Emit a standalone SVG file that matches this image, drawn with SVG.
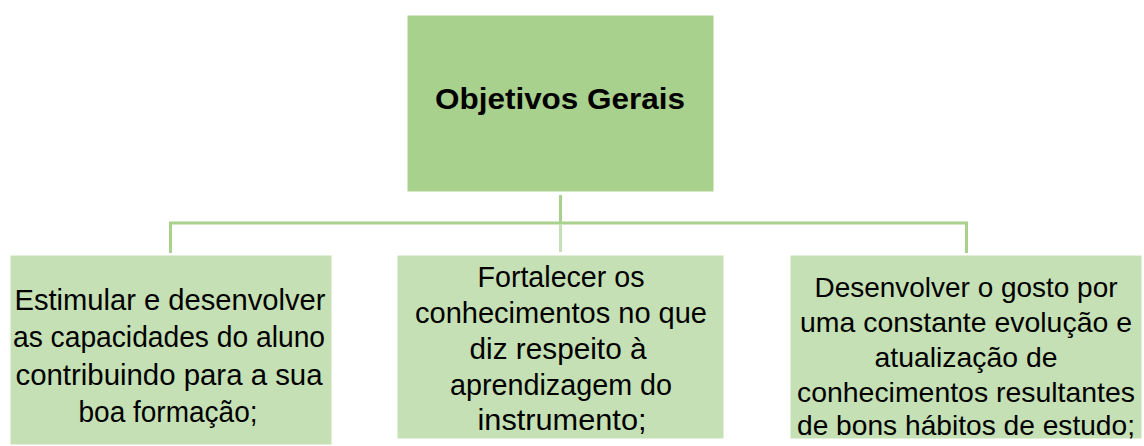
<svg xmlns="http://www.w3.org/2000/svg" width="1144" height="446" viewBox="0 0 1144 446">
<style>
.top{fill:#a9d18e;stroke:#ffffff;stroke-width:1}
.box{fill:#c5e0b4;stroke:#ffffff;stroke-width:1}
.ln{stroke:#a9d18e;stroke-width:3;fill:none}
.ln2{stroke:#c5e0b4;stroke-width:3;fill:none}
.t{font-family:"Liberation Sans",Arial,sans-serif;font-size:30px;fill:#000;text-anchor:middle}
.s{font-size:28px}
.h{font-family:"Liberation Sans",Arial,sans-serif;font-size:30px;font-weight:bold;fill:#000;text-anchor:middle}
</style>
<rect width="1144" height="446" fill="#ffffff"/>
<g id="connectors">
<line class="ln" x1="560.5" y1="195" x2="560.5" y2="223"/>
<polyline class="ln" points="170.5,253 170.5,223 966.5,223 966.5,253"/>
<line class="ln2" x1="560.5" y1="224" x2="560.5" y2="252"/>
</g>
<g id="n0">
<rect class="top" x="407" y="15" width="307" height="177"/>
<text class="h" x="560" y="109" textLength="250" lengthAdjust="spacingAndGlyphs">Objetivos Gerais</text>
</g>
<g id="n1">
<rect class="box" x="10" y="255" width="322" height="190"/>
<text class="t" x="170" y="310" textLength="311" lengthAdjust="spacingAndGlyphs">Estimular e desenvolver</text>
<text class="t" x="169" y="347" textLength="312" lengthAdjust="spacingAndGlyphs">as capacidades do aluno</text>
<text class="t" x="169" y="385" textLength="307" lengthAdjust="spacingAndGlyphs">contribuindo para a sua</text>
<text class="t" x="168" y="422" textLength="179" lengthAdjust="spacingAndGlyphs">boa formação;</text>
</g>
<g id="n2">
<rect class="box" x="397" y="255" width="327" height="184"/>
<text class="t" x="561" y="287" textLength="167" lengthAdjust="spacingAndGlyphs">Fortalecer os</text>
<text class="t" x="561" y="323" textLength="292" lengthAdjust="spacingAndGlyphs">conhecimentos no que</text>
<text class="t" x="558" y="359" textLength="177" lengthAdjust="spacingAndGlyphs">diz respeito à</text>
<text class="t" x="561" y="395" textLength="222" lengthAdjust="spacingAndGlyphs">aprendizagem do</text>
<text class="t" x="562" y="430" textLength="169" lengthAdjust="spacingAndGlyphs">instrumento;</text>
</g>
<g id="n3">
<rect class="box" x="790" y="255" width="352" height="184"/>
<text class="t s" x="966" y="297" textLength="303" lengthAdjust="spacingAndGlyphs">Desenvolver o gosto por</text>
<text class="t s" x="966" y="332" textLength="332" lengthAdjust="spacingAndGlyphs">uma constante evolução e</text>
<text class="t s" x="966" y="367" textLength="183" lengthAdjust="spacingAndGlyphs">atualização de</text>
<text class="t s" x="966" y="402" textLength="338" lengthAdjust="spacingAndGlyphs">conhecimentos resultantes</text>
<text class="t s" x="966" y="435" textLength="338" lengthAdjust="spacingAndGlyphs">de bons hábitos de estudo;</text>
</g>
</svg>
